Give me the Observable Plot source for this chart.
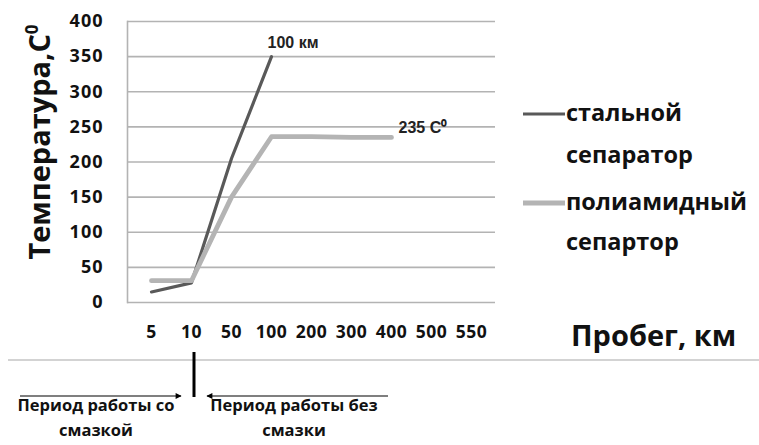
<!DOCTYPE html>
<html>
<head>
<meta charset="utf-8">
<script src="https://cdn.jsdelivr.net/npm/d3@7"></script>
<script src="https://cdn.jsdelivr.net/npm/@observablehq/plot@0.6"></script>
<style>
  html, body { margin: 0; padding: 0; background: #fff; }
  #chart { position: relative; width: 759px; height: 445px; overflow: hidden; }
</style>
</head>
<body>
<div id="chart"></div>
<script>
// ---- data ----
const categories = ["5", "10", "50", "100", "200", "300", "400", "500", "550"];
const yTicks = [0, 50, 100, 150, 200, 250, 300, 350, 400];
const steelKm = ["5", "10", "50", "100"];
const steelTemp = [15, 28, 205, 350];
const polyKm = ["5", "10", "50", "100", "200", "300", "400"];
const polyTemp = [31, 31, 150, 236, 236, 235, 235];
const seriesNames = ["стальной|сепаратор", "полиамидный|сепартор"];
const yTitle = "Температура,С";
const xTitle = "Пробег, км";
const noteSteel = "100 км";
const notePoly = "235 C⁰";
const periodLeft = ["Период работы со", "смазкой"];
const periodRight = ["Период работы без", "смазки"];

const steelColor = "#595959";
const polyColor = "#b4b4b4";
const font = "'Open Sans', 'Liberation Sans', sans-serif";

const steel = steelKm.map((k, i) => ({km: k, t: steelTemp[i]}));
const poly = polyKm.map((k, i) => ({km: k, t: polyTemp[i]}));

const plot = Plot.plot({
  width: 759,
  height: 445,
  marginLeft: 127,
  marginRight: 264,
  marginTop: 21,
  marginBottom: 143,
  style: {fontFamily: font, fontSize: "18px", fontWeight: "bold", background: "#fff", color: "#111"},
  x: {type: "point", domain: categories, padding: 0.5},
  y: {domain: [0, 400]},
  marks: [
    Plot.gridY(yTicks, {stroke: "#b3b3b3", strokeOpacity: 1, strokeWidth: 1.6}),
    Plot.frame({anchor: "left", stroke: "#b3b3b3", strokeWidth: 1.6}),
    Plot.axisY(yTicks, {tickSize: 0, tickPadding: 24, label: null, fontSize: 18}),
    Plot.axisX(categories, {tickSize: 0, tickPadding: 23, label: null, fontSize: 17.5}),
    Plot.line(steel, {x: "km", y: "t", stroke: steelColor, strokeWidth: 3.2}),
    Plot.line(poly, {x: "km", y: "t", stroke: polyColor, strokeWidth: 4.8}),
    Plot.text([steel[steel.length - 1]], {x: "km", y: "t", text: () => noteSteel, textAnchor: "start", dx: -4, dy: -14, fontSize: 16, fontWeight: "bold", fontFamily: "'Liberation Sans', Arial, sans-serif", fill: "#222"}),
    Plot.text([poly[poly.length - 1]], {x: "km", y: "t", text: () => notePoly, textAnchor: "start", dx: 7, dy: -10, fontSize: 16, fontWeight: "bold", fontFamily: "'Liberation Sans', Arial, sans-serif", fill: "#222"})
  ]
});

document.getElementById("chart").appendChild(plot);

const svg = d3.select(plot);
svg.selectAll('g[aria-label="y-axis tick label"]').style("letter-spacing", "1px");
svg.selectAll('g[aria-label="x-axis tick label"]').style("letter-spacing", "0.5px");

const xs = plot.scale("x");

function txt(x, y, size, weight, anchor, t) {
  return svg.append("text").attr("x", x).attr("y", y)
    .attr("text-anchor", anchor)
    .style("font-family", font).style("font-size", size + "px").style("font-weight", weight)
    .attr("fill", "#111").text(t);
}

// Y title (rotated) with superscript
const yt = svg.append("text")
  .attr("transform", `translate(50,142) rotate(-90)`)
  .attr("text-anchor", "middle")
  .style("font-family", font)
  .style("font-size", "29px")
  .style("font-weight", "bold")
  .attr("fill", "#111");
yt.append("tspan").text(yTitle);
yt.append("tspan").attr("dy", "-0.7em").style("font-size", "17px").text("0");

// Legend
const legendRows = [
  {color: steelColor, width: 3.2, y: 114, lines: seriesNames[0].split("|"), dyLine: 42},
  {color: polyColor, width: 4.8, y: 203, lines: seriesNames[1].split("|"), dyLine: 40}
];
legendRows.forEach(r => {
  svg.append("line").attr("x1", 523).attr("x2", 565).attr("y1", r.y).attr("y2", r.y)
    .attr("stroke", r.color).attr("stroke-width", r.width);
  r.lines.forEach((t, i) => txt(566, r.y + i * r.dyLine + 7, 23.5, "bold", "start", t));
});

// X title
txt(571, 346, 29, "bold", "start", xTitle);

// separator line
svg.append("line").attr("x1", 8).attr("x2", 759).attr("y1", 360).attr("y2", 360)
  .attr("stroke", "#a8a8a8").attr("stroke-width", 1.2);

// divider at category "10"
const xDiv = xs.apply("10") + 3;
svg.append("line").attr("x1", xDiv).attr("x2", xDiv).attr("y1", 352).attr("y2", 397)
  .attr("stroke", "#000").attr("stroke-width", 3);

// arrows
const defs = svg.append("defs");
defs.append("marker").attr("id", "ah").attr("viewBox", "0 0 10 10").attr("refX", 9).attr("refY", 5)
  .attr("markerWidth", 9).attr("markerHeight", 6).attr("markerUnits", "userSpaceOnUse").attr("orient", "auto")
  .append("path").attr("d", "M0,0L10,5L0,10z").attr("fill", "#000");
svg.append("line").attr("x1", 20).attr("x2", xDiv - 13).attr("y1", 396).attr("y2", 396)
  .attr("stroke", "#000").attr("stroke-width", 1.2).attr("marker-end", "url(#ah)");
svg.append("line").attr("x1", 388).attr("x2", xDiv + 13).attr("y1", 396).attr("y2", 396)
  .attr("stroke", "#000").attr("stroke-width", 1.2).attr("marker-end", "url(#ah)");

// period texts
[[periodLeft, 96], [periodRight, 294]].forEach(([lines, cx]) => {
  lines.forEach((t, i) => txt(cx, 411 + i * 25, 16.5, "bold", "middle", t));
});
</script>
</body>
</html>
